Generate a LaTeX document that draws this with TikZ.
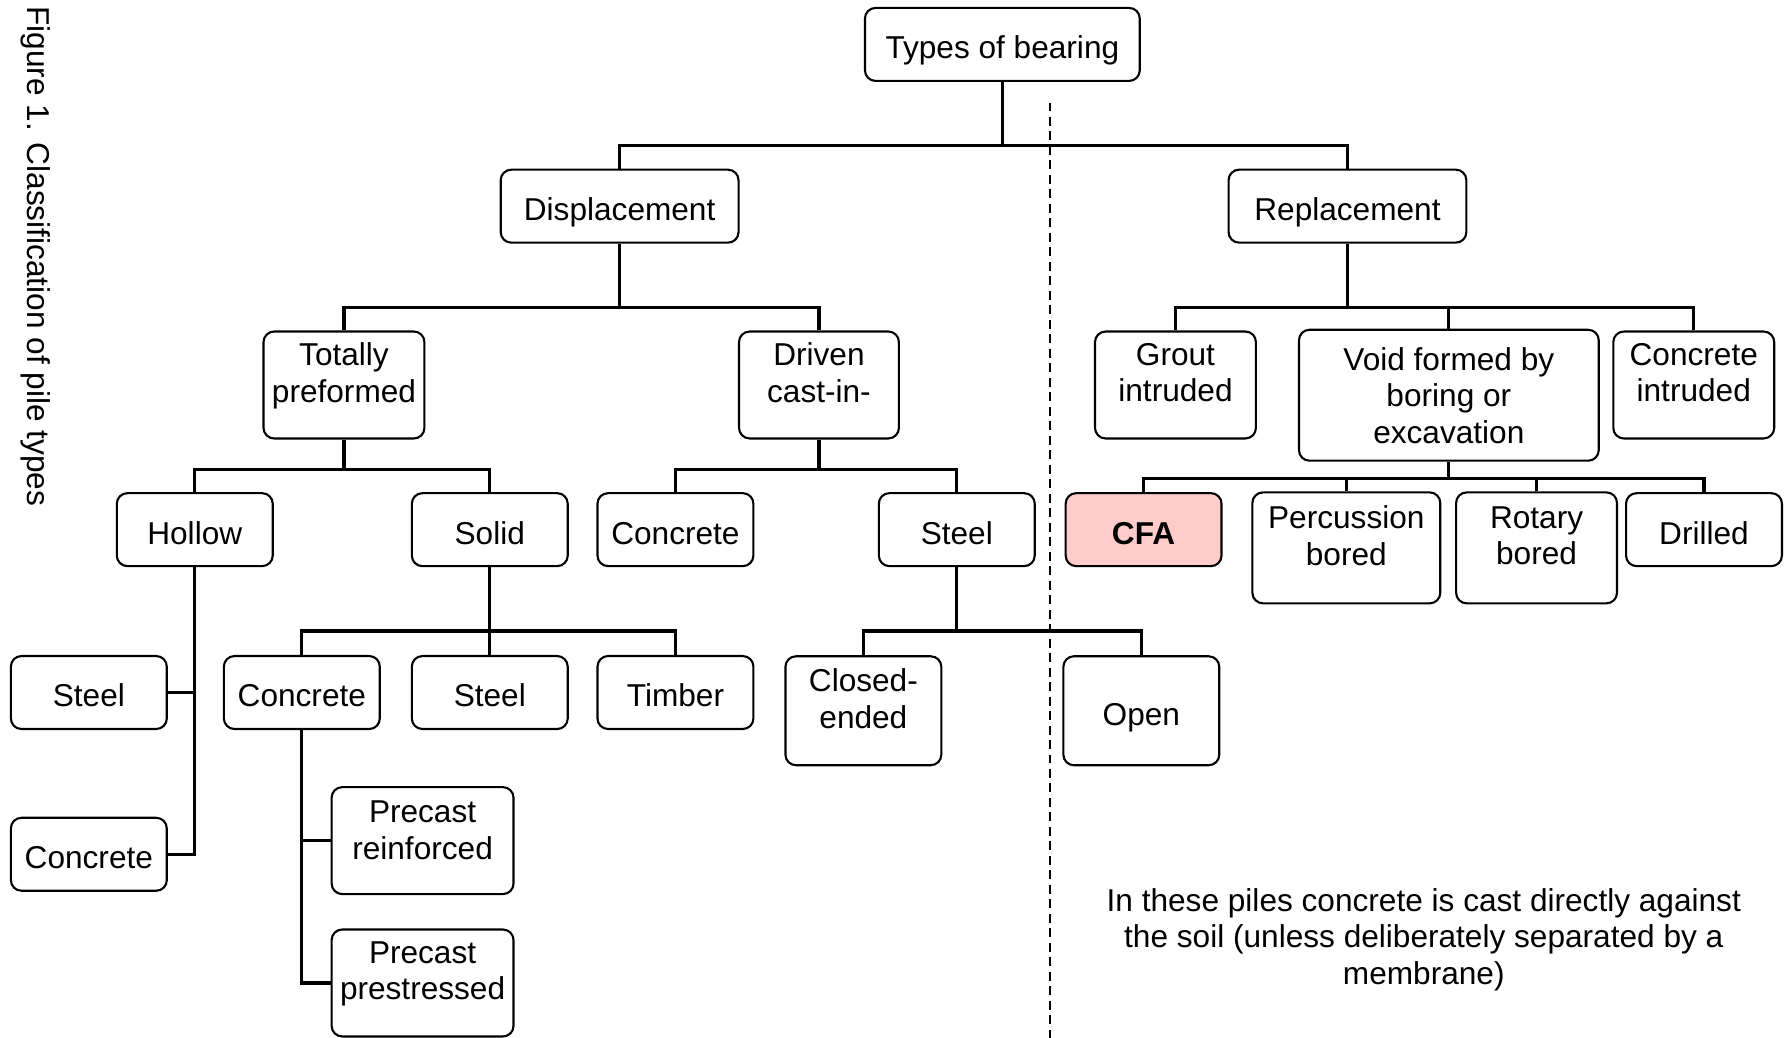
\documentclass[tikz,border=0pt]{standalone}
\usepackage{fontspec}
\setmainfont{Liberation Sans}
\usepackage{tikz}

\begin{document}
\begin{tikzpicture}[x=0.0114cm, y=-0.0114cm, font=\fontsize{9}{10.4}\selectfont]
		\tikzset{box/.style={draw, line width=0.6pt, rounded corners=3pt, align=center,
				minimum width=1.56cm, minimum height=0.73cm, inner xsep=1pt, inner ysep=2pt}}
		\tikzset{one/.style={box, text height=8.6pt, text depth=0.4pt}}
		\tikzset{two/.style={box, minimum height=1.07cm, text depth=7.1pt}}
		\tikzset{link/.style={line width=0.9pt}}
		\useasboundingbox (0,0) rectangle (1568,911);
		%caption
		\node[rotate=-90] (cap) at (31,225) {Figure 1. Classification of pile types};
		%boxes
		\node[one, minimum width=2.75cm] (types) at (880,39) {Types of bearing};
		\node[one, minimum width=2.38cm] (disp) at (544,181) {Displacement};
		\node[one, minimum width=2.38cm] (repl) at (1183,181) {Replacement};
		\node[two, minimum width=1.61cm] (tot) at (302,338) {Totally\\preformed};
		\node[two, minimum width=1.60cm] (driven) at (719,338) {Driven\\cast-in-};
		\node[two, minimum width=1.61cm] (grout) at (1032,338) {Grout\\intruded};
		\node[box, minimum width=3.0cm, minimum height=1.31cm] (void) at (1272,347) {Void formed by\\boring or\\excavation};
		\node[two, minimum width=1.61cm] (conint) at (1487,338) {Concrete\\intruded};
		\node[one] (hollow) at (171,465) {Hollow};
		\node[one] (solid) at (430,465) {Solid};
		\node[one] (dconc) at (593,465) {Concrete};
		\node[one] (dsteel) at (840,465) {Steel};
		\node[one, fill={rgb,255:red,255;green,204;blue,204}, font=\fontsize{9}{10.4}\selectfont\bfseries] (cfa) at (1004,465) {CFA};
		\node[two, minimum width=1.88cm, minimum height=1.11cm] (perc) at (1182,481) {Percussion\\bored};
		\node[two, minimum width=1.61cm, minimum height=1.11cm] (rotary) at (1349,481) {Rotary\\bored};
		\node[one] (drilled) at (1496,465) {Drilled};
		\node[one] (hsteel) at (78,608) {Steel};
		\node[one] (hconc) at (78,750) {Concrete};
		\node[one] (sconc) at (265,608) {Concrete};
		\node[one] (ssteel) at (430,608) {Steel};
		\node[one] (timber) at (593,608) {Timber};
		\node[two, minimum height=1.09cm] (closed) at (758,624) {Closed-\\ended};
		\node[one, minimum height=1.09cm] (open) at (1002,624) {Open};
		\node[two, minimum width=1.82cm, text depth=6pt] (prein) at (371,738) {Precast\\reinforced};
		\node[two, minimum width=1.82cm] (prest) at (371,863) {Precast\\prestressed};
		\node[align=center] (note) at (1250,825) {In these piles concrete is cast directly against\\the soil (unless deliberately separated by a\\membrane)};
		%junctions
		\coordinate (tb) at (880,128);
		\coordinate (db) at (544,270);
		\coordinate (rb) at (1183,270);
		\coordinate (pb) at (302,412);
		\coordinate (cb) at (719,412);
		\coordinate (vb) at (1272,420);
		\coordinate (sb) at (430,554);
		\coordinate (eb) at (840,554);
		\coordinate (divtop) at (922,90);
		\coordinate (divbot) at (922,911);
		%links
		\draw[link] (types) -- (tb);
		\draw[link] (disp) |- (tb) -| (repl);
		\draw[link] (disp) -- (db);
		\draw[link] (tot) |- (db) -| (driven);
		\draw[link] (repl) -- (rb);
		\draw[link] (grout) |- (rb) -| (conint);
		\draw[link] (void) -- (void |- rb);
		\draw[link] (tot) -- (pb);
		\draw[link] (hollow) |- (pb) -| (solid);
		\draw[link] (driven) -- (cb);
		\draw[link] (dconc) |- (cb) -| (dsteel);
		\draw[link] (void) -- (vb);
		\draw[link] (cfa) |- (vb) -| (drilled);
		\draw[link] (perc) -- (perc |- vb);
		\draw[link] (rotary) -- (rotary |- vb);
		\draw[link] (hollow) |- (hsteel);
		\draw[link] (hollow) |- (hconc);
		\draw[link] (solid) -- (sb);
		\draw[link] (sconc) |- (sb) -| (timber);
		\draw[link] (ssteel) -- (sb);
		\draw[link] (dsteel) -- (eb);
		\draw[link] (closed) |- (eb) -| (open);
		\draw[link] (sconc) |- (prein);
		\draw[link] (sconc) |- (prest);
		%divider
		\draw[line width=0.6pt, dash pattern=on 0.09cm off 0.055cm] (divtop) -- (divbot);
\end{tikzpicture}
\end{document}
